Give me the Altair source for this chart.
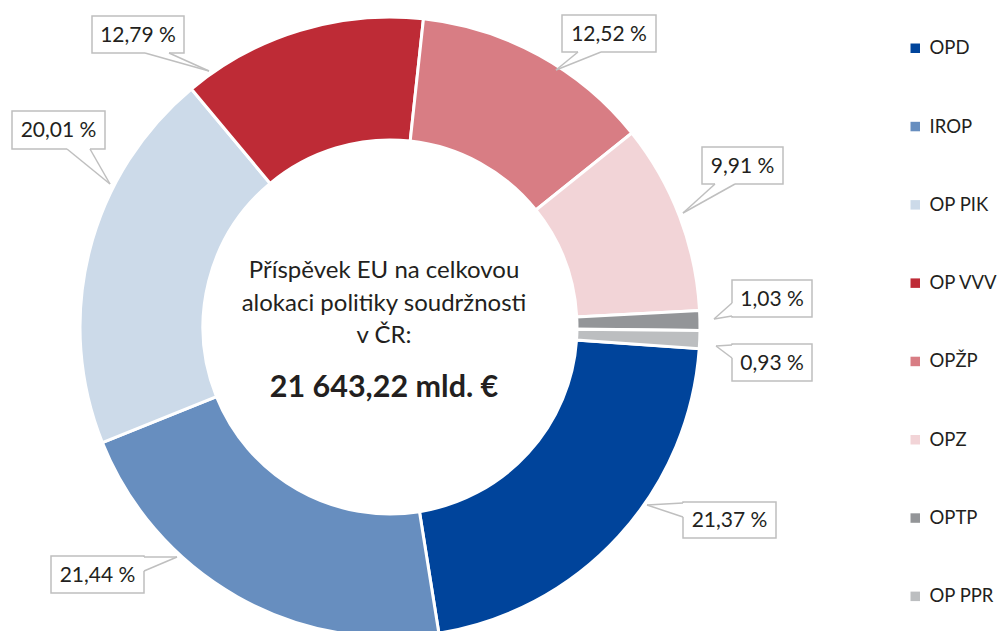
import math
import altair as alt
import pandas as pd

# ---------------- data ----------------
categories = ["OPD", "IROP", "OP PIK", "OP VVV", "OPŽP", "OPZ", "OPTP", "OP PPR"]
shares = [21.37, 21.44, 20.01, 12.79, 12.52, 9.91, 1.03, 0.93]
colors = ["#00449B", "#678EBF", "#CCDAE9", "#BE2B36", "#D87D84", "#F2D4D7", "#939598", "#BCBEC0"]
center_lines = ["Příspěvek EU na celkovou", "alokaci politiky soudržnosti", "v ČR:"]
total_text = "21 643,22 mld. €"

# ---------------- layout (page pixels) ----------------
OFF = 8                      # page margin
CX, CY = 390 - OFF, 327 - OFF
R_OUT, R_IN = 310, 187
START = math.radians(94)     # angle where the first slice begins (clockwise from 12 o'clock)
FONT = "Lato"
TXT = "#231F20"
BOX_STROKE = "#BFBFBF"

callout_layout = {
    "OPD":    dict(box=(683, 502, 776, 538), b1=(683, 503), b2=(683, 517), tip=(647, 505)),
    "IROP":   dict(box=(51, 556, 144, 593),  b1=(144, 557), b2=(144, 571), tip=(177, 557)),
    "OP PIK": dict(box=(12, 111, 105, 149),  b1=(67, 149),  b2=(90, 149),  tip=(110, 184)),
    "OP VVV": dict(box=(92, 16, 184, 53),    b1=(145, 53),  b2=(169, 53),  tip=(209, 71)),
    "OPŽP":   dict(box=(562, 15, 656, 52),   b1=(578, 52),  b2=(601, 52),  tip=(556, 70)),
    "OPZ":    dict(box=(702, 147, 783, 184), b1=(715, 184), b2=(735, 184), tip=(683, 213)),
    "OPTP":   dict(box=(732, 280, 812, 317), b1=(732, 303), b2=(732, 316), tip=(714, 319)),
    "OP PPR": dict(box=(732, 344, 812, 381), b1=(732, 345), b2=(732, 358), tip=(716, 346)),
}

def fmt_pct(v):
    return f"{v:.2f}".replace(".", ",") + " %"

slices = pd.DataFrame({"kategorie": categories, "podil": shares, "poradi": range(len(categories))})

boxes, covers, pointers, labels = [], [], [], []
for cat, val in zip(categories, shares):
    lay = callout_layout[cat]
    l, t, r, b = [c - OFF for c in lay["box"]]
    boxes.append(dict(x=l, x2=r, y=t, y2=b))
    b1 = [c - OFF for c in lay["b1"]]
    b2 = [c - OFF for c in lay["b2"]]
    tip = [c - OFF for c in lay["tip"]]
    covers.append(dict(x=b1[0], y=b1[1], x2=b2[0], y2=b2[1]))
    pointers.append(dict(x=b1[0], y=b1[1], x2=tip[0], y2=tip[1]))
    pointers.append(dict(x=b2[0], y=b2[1], x2=tip[0], y2=tip[1]))
    labels.append(dict(x=(l + r) / 2, y=(t + b) / 2 + 1, text=fmt_pct(val)))

boxes = pd.DataFrame(boxes)
covers = pd.DataFrame(covers)
pointers = pd.DataFrame(pointers)
labels = pd.DataFrame(labels)

center_df = pd.DataFrame({
    "text": center_lines + [total_text],
    "y": [270, 303, 335, 389],
    "bold": ["normal", "normal", "normal", "bold"],
})

# ---------------- chart ----------------
donut = alt.Chart(slices).mark_arc(
    innerRadius=R_IN, outerRadius=R_OUT, stroke="white", strokeWidth=3
).encode(
    theta=alt.Theta("podil:Q", stack=True,
                    scale=alt.Scale(range=[START, START + 2 * math.pi])),
    order=alt.Order("poradi:Q"),
    color=alt.Color(
        "kategorie:N",
        scale=alt.Scale(domain=categories, range=colors),
        legend=alt.Legend(
            orient="none", legendX=898, legendY=31, title=None,
            symbolType="square", symbolSize=90, symbolStrokeWidth=0,
            labelFont=FONT, labelFontSize=18.5, labelColor=TXT,
            rowPadding=59.3, labelOffset=5, padding=0,
        ),
    ),
    x=alt.value(CX),
    y=alt.value(CY),
)

box_layer = alt.Chart(boxes).mark_rect(fill="white", stroke=BOX_STROKE, strokeWidth=1.5).encode(
    x=alt.X("x:Q", scale=None, axis=None), x2="x2:Q",
    y=alt.Y("y:Q", scale=None, axis=None), y2="y2:Q",
)

cover_layer = alt.Chart(covers).mark_rule(color="white", strokeWidth=3).encode(
    x=alt.X("x:Q", scale=None, axis=None), x2="x2:Q",
    y=alt.Y("y:Q", scale=None, axis=None), y2="y2:Q",
)

pointer_layer = alt.Chart(pointers).mark_rule(color=BOX_STROKE, strokeWidth=1.5).encode(
    x=alt.X("x:Q", scale=None, axis=None), x2="x2:Q",
    y=alt.Y("y:Q", scale=None, axis=None), y2="y2:Q",
)

label_layer = alt.Chart(labels).mark_text(
    font=FONT, fontSize=21, color=TXT, align="center", baseline="middle"
).encode(
    x=alt.X("x:Q", scale=None, axis=None),
    y=alt.Y("y:Q", scale=None, axis=None),
    text="text:N",
)

center_normal = alt.Chart(center_df[center_df["bold"] == "normal"]).mark_text(
    font=FONT, fontSize=24, color=TXT, align="center", baseline="alphabetic"
).encode(
    x=alt.value(376),
    y=alt.Y("y:Q", scale=None, axis=None),
    text="text:N",
)

center_bold = alt.Chart(center_df[center_df["bold"] == "bold"]).mark_text(
    font=FONT, fontSize=30.5, fontWeight="bold", color=TXT, align="center", baseline="alphabetic"
).encode(
    x=alt.value(376),
    y=alt.Y("y:Q", scale=None, axis=None),
    text="text:N",
)

chart = alt.layer(
    donut, box_layer, cover_layer, pointer_layer, label_layer, center_normal, center_bold
).properties(
    width=989, height=623, padding=0, autosize="none", background="white"
).configure_view(stroke=None)

chart.save("out.html", embed_options={"renderer": "svg", "actions": False})
